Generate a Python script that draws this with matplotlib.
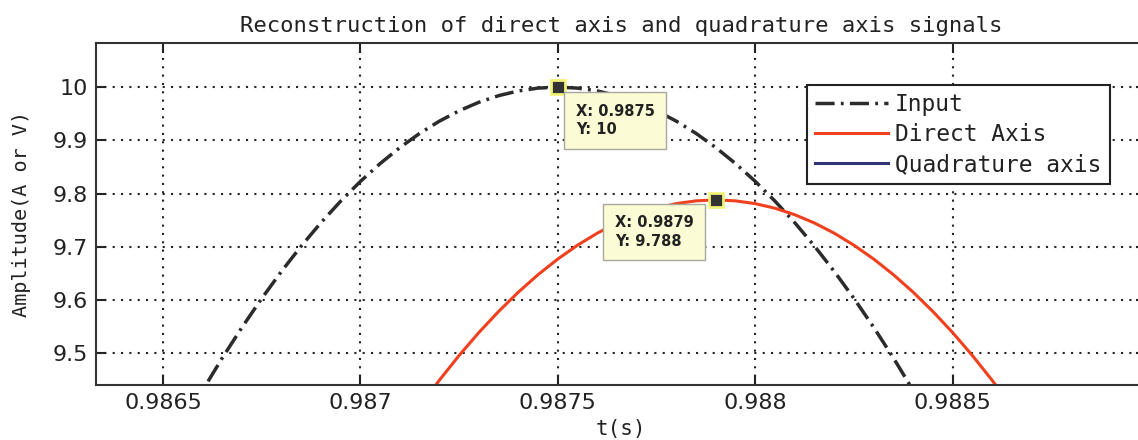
import matplotlib
matplotlib.use("Agg")
import matplotlib.pyplot as plt
from matplotlib.lines import Line2D

# sampled input signal around its peak
input_t = [0.98650, 0.98655, 0.98660, 0.98665, 0.98670, 0.98675, 0.98680, 0.98685,
           0.98690, 0.98695, 0.98700, 0.98705, 0.98710, 0.98715, 0.98720, 0.98725,
           0.98730, 0.98735, 0.98740, 0.98745, 0.98750, 0.98755, 0.98760, 0.98765,
           0.98770, 0.98775, 0.98780, 0.98785, 0.98790, 0.98795, 0.98800, 0.98805,
           0.98810, 0.98815, 0.98820, 0.98825, 0.98830, 0.98835, 0.98840, 0.98845,
           0.98850]
input_v = [9.2977, 9.3655, 9.4299, 9.4910, 9.5486, 9.6029, 9.6538, 9.7013,
           9.7453, 9.7858, 9.8229, 9.8564, 9.8865, 9.9131, 9.9361, 9.9556,
           9.9716, 9.9840, 9.9929, 9.9982, 10.0000, 9.9982, 9.9929, 9.9840,
           9.9716, 9.9556, 9.9361, 9.9131, 9.8865, 9.8564, 9.8229, 9.7858,
           9.7453, 9.7013, 9.6538, 9.6029, 9.5486, 9.4910, 9.4299, 9.3655,
           9.2977]

# reconstructed direct axis component
direct_t = [0.98710, 0.98715, 0.98720, 0.98725, 0.98730, 0.98735, 0.98740, 0.98745,
            0.98750, 0.98755, 0.98760, 0.98765, 0.98770, 0.98775, 0.98780, 0.98785,
            0.98790, 0.98795, 0.98800, 0.98805, 0.98810, 0.98815, 0.98820, 0.98825,
            0.98830, 0.98835, 0.98840, 0.98845, 0.98850, 0.98855, 0.98860, 0.98865,
            0.98870]
direct_v = [9.3462, 9.3993, 9.4491, 9.4956, 9.5387, 9.5783, 9.6146, 9.6475,
            9.6769, 9.7029, 9.7255, 9.7446, 9.7602, 9.7724, 9.7810, 9.7862,
            9.7880, 9.7862, 9.7810, 9.7724, 9.7602, 9.7446, 9.7255, 9.7029,
            9.6769, 9.6475, 9.6146, 9.5783, 9.5387, 9.4956, 9.4491, 9.3993,
            9.3462]

# quadrature component stays far below this window
quad_t = []
quad_v = []

# data tips
tip_t = [0.9875, 0.9879]
tip_v = [10, 9.788]

xticks = [0.9865, 0.987, 0.9875, 0.988, 0.9885]
yticks = [9.5, 9.6, 9.7, 9.8, 9.9, 10]

MONO = "DejaVu Sans Mono"
W, H = 1138, 440

fig = plt.figure(figsize=(W / 100, H / 100), dpi=100)
ax = fig.add_axes([96 / W, 1 - 385 / H, (1146 - 96) / W, (385 - 43) / H])

ax.plot(input_t, input_v, color="#2b2b2b", lw=2.5, dashes=(5.5, 1.8, 0.8, 1.8),
        label="Input")
ax.plot(direct_t, direct_v, color="#f0401e", lw=2.2, label="Direct Axis")
ax.plot(quad_t, quad_v, color="#33337a", lw=2.2, label="Quadrature axis")

ax.set_xlim(0.98633, 0.98899)
ax.set_ylim(9.44, 10.083)
ax.set_xticks(xticks)
ax.set_xticklabels([f"{v:g}" for v in xticks])
ax.set_yticks(yticks)
ax.set_yticklabels([f"{v:g}" for v in yticks])

ax.grid(True, color="#222222", linestyle=(0, (1, 3)), linewidth=1.5)
ax.tick_params(direction="in", top=True, right=True, length=7, width=1.5,
               labelsize=16, colors="#222222", pad=6)
for sp in ax.spines.values():
    sp.set_linewidth(1.5)
    sp.set_color("#333333")

ax.set_title("Reconstruction of direct axis and quadrature axis signals",
             fontfamily=MONO, fontsize=16, color="#222222", pad=8)
ax.set_xlabel("t(s)", fontfamily=MONO, fontsize=15, color="#222222", labelpad=4)
ax.set_ylabel("Amplitude(A or V)", fontfamily=MONO, fontsize=14.5,
              color="#222222", labelpad=15)

# data tip markers and their boxes
ax.plot(tip_t, tip_v, ls="none", marker="s", ms=10, mfc="#333333",
        mec="#f2f27a", mew=2, zorder=5)
tip_offsets = [((13, -12), "left"), ((-16, -11), "right")]
for t, v, (off, ha) in zip(tip_t, tip_v, tip_offsets):
    ax.annotate(f"X: {t:g}\nY: {v:g}", xy=(t, v), xytext=off,
                textcoords="offset points", ha=ha, va="top",
                multialignment="left", fontsize=10.5, fontweight="bold",
                color="#222222", zorder=6, linespacing=1.3,
                bbox=dict(boxstyle="square,pad=0.8", fc="#fbfbd6",
                          ec="#a8a8a0", lw=1))

handles = [
    Line2D([], [], color="#2b2b2b", lw=2.5, dashes=(5.5, 1.8, 0.8, 1.8)),
    Line2D([], [], color="#f0401e", lw=2.2),
    Line2D([], [], color="#33337a", lw=2.2),
]
leg = ax.legend(handles, ["Input", "Direct Axis", "Quadrature axis"],
                loc="upper left", bbox_to_anchor=(807 / W, 1 - 85 / H),
                bbox_transform=fig.transFigure, borderaxespad=0,
                prop={"family": MONO, "size": 16.5}, fancybox=False,
                framealpha=1, edgecolor="#222222", handlelength=3.2,
                handletextpad=0.3, labelspacing=0.3, borderpad=0.35)
leg.get_frame().set_linewidth(1.5)
for txt in leg.get_texts():
    txt.set_color("#222222")

fig.savefig("out.png", dpi=100)
